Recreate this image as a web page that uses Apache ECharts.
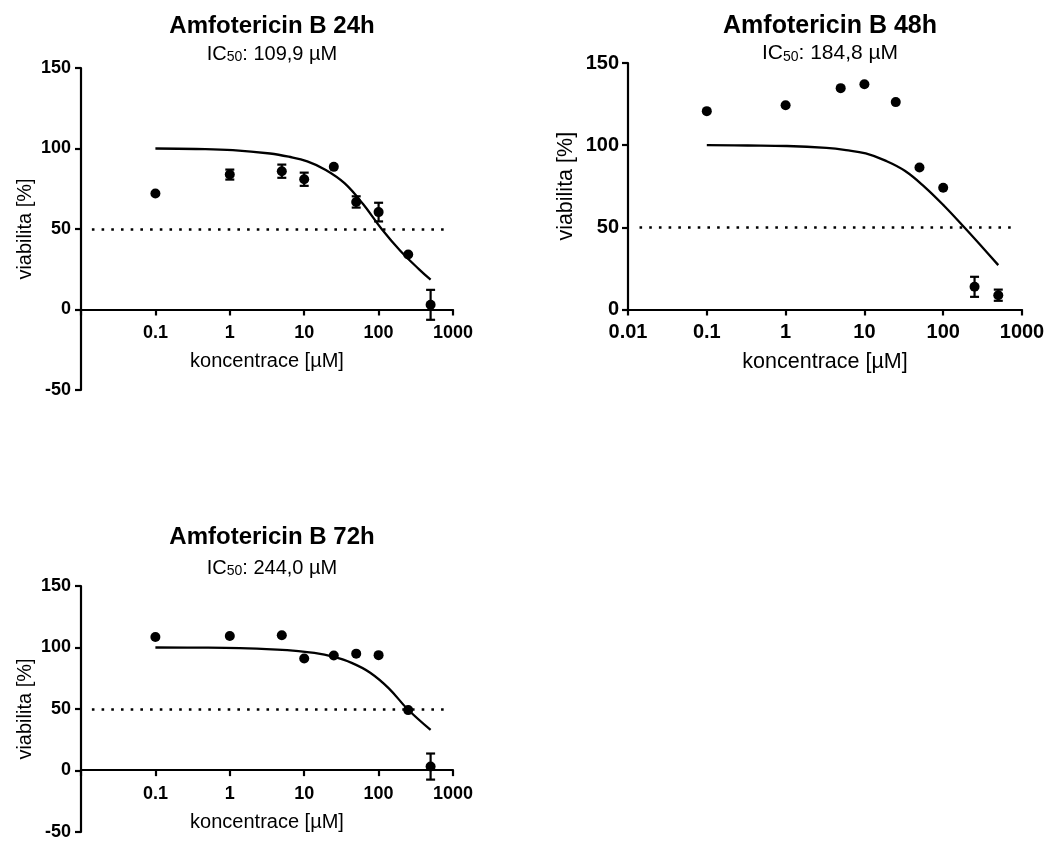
<!DOCTYPE html>
<html>
<head>
<meta charset="utf-8">
<title>Amfotericin B</title>
<script src="https://cdn.jsdelivr.net/npm/echarts@6/dist/echarts.min.js"></script>
<style>
  html, body { margin: 0; padding: 0; background: #fff; }
  #chart { width: 1048px; height: 841px; }
</style>
</head>
<body>
<div id="chart"></div>
<script>
// Concentrations tested (µM)
const concentrations = [0.1, 1, 5, 10, 25, 50, 100, 250, 500];

// Mean viability [%] and error (SD) per concentration
const viab24 = [72, 83.8, 85.9, 80.9, 88.6, 66.8, 60.5, 34.2, 2.9];
const err24  = [0, 3.1, 4.1, 4.1, 0, 3.5, 5.8, 0, 9.3];
const viab48 = [120.7, 124.3, 134.7, 137.1, 126.2, 86.4, 74.1, 13.8, 8.7];
const err48  = [0, 0, 0, 0, 0, 0, 0, 6.1, 3.4];
const viab72 = [108.5, 109.3, 110, 91, 93.5, 95, 93.8, 49.1, 3.2];
const err72  = [0, 0, 0, 0, 0, 0, 0, 0, 10.6];

// Fitted dose-response curves, sampled every quarter decade around the IC50
const fit24X = [0.1, 0.35, 1.1, 3.48, 6.18, 11.0, 19.5, 34.8, 61.8, 109.9, 195.4, 347.5, 500];
const fit24Y = [100, 99.7, 99.0, 96.9, 94.9, 92.0, 86.7, 78.5, 65.5, 50, 36.5, 25.1, 18.5];
const fit48X = [0.1, 0.33, 1.04, 3.29, 5.85, 10.4, 18.5, 32.9, 58.4, 103.9, 184.8, 328.6, 500];
const fit48Y = [100, 99.8, 99.5, 98.3, 97.0, 95.0, 90.6, 84.3, 74.5, 62.8, 50, 36.8, 27];
const fit72X = [0.1, 0.43, 1.37, 4.34, 7.71, 13.7, 24.4, 43.4, 77.1, 137.2, 244, 500];
const fit72Y = [100, 99.9, 99.5, 98.3, 97.3, 95.6, 92.5, 87.5, 79.5, 66.8, 50, 33];

// Titles, IC50 values and axis texts
const titles = ['Amfotericin B 24h', 'Amfotericin B 48h', 'Amfotericin B 72h'];
const ic50Labels = ['109,9', '184,8', '244,0'];
const xTickLabels = ['0.01', '0.1', '1', '10', '100', '1000'];
const xRange = [0.01, 1000];
const yRange24 = [-50, 150];
const yRange48 = [0, 150];
const yRange72 = [-50, 150];
const yInterval = 50;
const halfLevel = 50;
const halfLineX = [0.014, 860];
const xAxisName = 'koncentrace [µM]';
const yAxisName = 'viabilita [%]';

const FONT = '"Liberation Sans", Arial, sans-serif';

const panels = [
  { viab: viab24, err: err24, fx: fit24X, fy: fit24Y, yr: yRange24, showFirstX: false,
    grid: { left: 81, top: 68, width: 372, height: 322 },
    cx: 267, titleTop: 9, subTop: 39.5, titleSize: 24, subSize: 20, tickSize: 18, nameSize: 20,
    xMargin: 15, yMargin: 10, xGap: 42, yGap: 46 },
  { viab: viab48, err: err48, fx: fit48X, fy: fit48Y, yr: yRange48, showFirstX: true,
    grid: { left: 628, top: 63, width: 394, height: 246.5 },
    cx: 825, titleTop: 9, subTop: 38, titleSize: 25, subSize: 21, tickSize: 20, nameSize: 21.5,
    xMargin: 13, yMargin: 9, xGap: 41.5, yGap: 51 },
  { viab: viab72, err: err72, fx: fit72X, fy: fit72Y, yr: yRange72, showFirstX: false,
    grid: { left: 81, top: 586, width: 372, height: 247.5 },
    cx: 267, titleTop: 520, subTop: 553, titleSize: 24, subSize: 20, tickSize: 18, nameSize: 20,
    xMargin: 15, yMargin: 10, xGap: 42, yGap: 46 }
];

const option = {
  backgroundColor: '#ffffff',
  animation: false,
  textStyle: { fontFamily: FONT, color: '#000' },
  title: [],
  grid: [],
  xAxis: [],
  yAxis: [],
  series: []
};

panels.forEach((p, i) => {
  option.title.push({
    text: titles[i],
    left: p.cx, top: p.titleTop, textAlign: 'center',
    textStyle: { fontFamily: FONT, fontSize: p.titleSize, fontWeight: 'bold', color: '#000', lineHeight: p.titleSize }
  });
  option.title.push({
    text: '{b|IC}{s|50}{b|: ' + ic50Labels[i] + ' µM}',
    left: p.cx, top: p.subTop, textAlign: 'center',
    textStyle: {
      fontFamily: FONT, fontWeight: 'normal',
      rich: {
        b: { fontFamily: FONT, fontSize: p.subSize, lineHeight: p.subSize, fontWeight: 'normal', color: '#000' },
        s: { fontFamily: FONT, fontSize: 14, lineHeight: 12, fontWeight: 'normal', verticalAlign: 'bottom', color: '#000' }
      }
    }
  });

  option.grid.push(Object.assign({ containLabel: false }, p.grid));

  const axisLine = { lineStyle: { color: '#000', width: 2.2 } };
  const axisTick = { show: true, length: 6, lineStyle: { color: '#000', width: 2.2 } };

  // the x axis crosses the y axis at 0 %: shift it up from the grid bottom
  const zeroShift = p.grid.height * (0 - p.yr[0]) / (p.yr[1] - p.yr[0]);

  option.xAxis.push({
    type: 'log', logBase: 10, gridIndex: i,
    min: xRange[0], max: xRange[1],
    position: 'bottom', offset: -zeroShift,
    axisLine: Object.assign({ onZero: false }, axisLine),
    axisTick: axisTick,
    splitLine: { show: false },
    minorTick: { show: false },
    axisLabel: {
      margin: p.xMargin, fontSize: p.tickSize, fontWeight: 'bold', color: '#000', fontFamily: FONT,
      formatter: (v) => {
        const k = Math.round(Math.log10(v)) + 2;
        if (k === 0 && !p.showFirstX) return '';
        return xTickLabels[k] || '';
      }
    },
    name: xAxisName, nameLocation: 'middle', nameGap: p.xGap,
    nameTextStyle: { fontSize: p.nameSize, color: '#000', fontFamily: FONT }
  });

  option.yAxis.push({
    type: 'value', gridIndex: i,
    min: p.yr[0], max: p.yr[1], interval: yInterval,
    axisLine: Object.assign({ show: true, onZero: false }, axisLine),
    axisTick: axisTick,
    splitLine: { show: false },
    axisLabel: { margin: p.yMargin, fontSize: p.tickSize, fontWeight: 'bold', color: '#000', fontFamily: FONT },
    name: yAxisName, nameLocation: 'middle', nameGap: p.yGap,
    nameTextStyle: { fontSize: p.nameSize, color: '#000', fontFamily: FONT }
  });

  // 50 % reference line
  option.series.push({
    type: 'line', xAxisIndex: i, yAxisIndex: i,
    data: [], silent: true,
    markLine: {
      silent: true, symbol: 'none', label: { show: false },
      lineStyle: { color: '#000', width: 2.6, type: [2.6, 7.1] },
      data: [[{ coord: [halfLineX[0], halfLevel] }, { coord: [halfLineX[1], halfLevel] }]]
    }
  });

  // fitted curve
  option.series.push({
    type: 'line', xAxisIndex: i, yAxisIndex: i,
    data: p.fx.map((x, k) => [x, p.fy[k]]),
    smooth: 0.4, showSymbol: false, symbol: 'none',
    lineStyle: { color: '#000', width: 2.3 },
    z: 3
  });

  // error bars
  option.series.push({
    type: 'custom', xAxisIndex: i, yAxisIndex: i,
    data: concentrations.map((x, k) => [x, p.viab[k], p.err[k]]),
    renderItem: (params, api) => {
      const x = api.value(0), y = api.value(1), e = api.value(2);
      if (!e) return null;
      const top = api.coord([x, y + e]);
      const bot = api.coord([x, y - e]);
      const w = 4.5;
      const style = { stroke: '#000', lineWidth: 2.2, fill: null };
      return {
        type: 'group',
        children: [
          { type: 'line', shape: { x1: top[0], y1: top[1], x2: bot[0], y2: bot[1] }, style },
          { type: 'line', shape: { x1: top[0] - w, y1: top[1], x2: top[0] + w, y2: top[1] }, style },
          { type: 'line', shape: { x1: bot[0] - w, y1: bot[1], x2: bot[0] + w, y2: bot[1] }, style }
        ]
      };
    },
    z: 4
  });

  // mean values
  option.series.push({
    type: 'scatter', xAxisIndex: i, yAxisIndex: i,
    data: concentrations.map((x, k) => [x, p.viab[k]]),
    symbol: 'circle', symbolSize: 10,
    itemStyle: { color: '#000', opacity: 1 },
    z: 5
  });
});

const chart = echarts.init(document.getElementById('chart'), null, { renderer: 'canvas' });
chart.setOption(option);
</script>
</body>
</html>
